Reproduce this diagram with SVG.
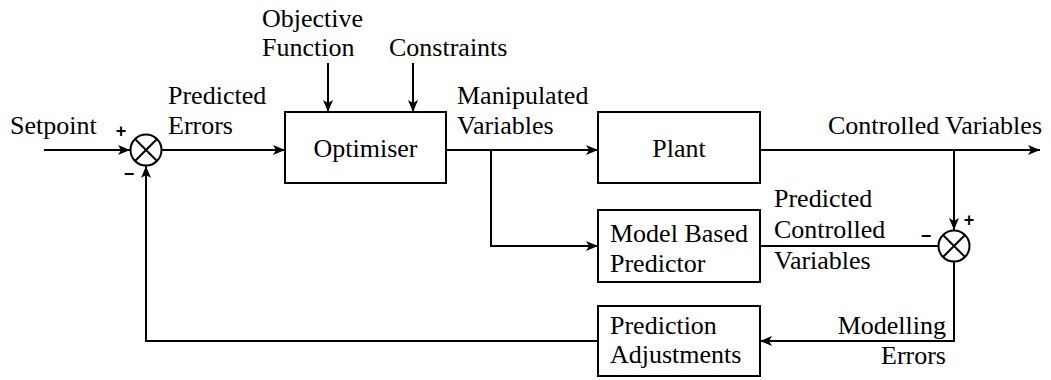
<svg xmlns="http://www.w3.org/2000/svg" width="1051" height="380" viewBox="0 0 1051 380">
  <defs>
    <marker id="ah" viewBox="0 0 12 10" refX="12" refY="5" markerWidth="12" markerHeight="10" markerUnits="userSpaceOnUse" orient="auto">
      <path d="M0,0 L12,5 L0,10 L3,5 z" fill="#000"/>
    </marker>
  </defs>

  <!-- connectors -->
  <g id="connectors" fill="none" stroke="#000" stroke-width="2">
    <path marker-end="url(#ah)" d="M44,150 H130"/>
    <path marker-end="url(#ah)" d="M162,150 H285"/>
    <path marker-end="url(#ah)" d="M328,63 V112"/>
    <path marker-end="url(#ah)" d="M413,63 V112"/>
    <path marker-end="url(#ah)" d="M446,150 H598"/>
    <path marker-end="url(#ah)" d="M491,150 V246 H598"/>
    <path marker-end="url(#ah)" d="M760,150 H1040"/>
    <path marker-end="url(#ah)" d="M954,150 V230"/>
    <path d="M760,246 H938"/>
    <path marker-end="url(#ah)" d="M954,262 V341 H760"/>
    <path marker-end="url(#ah)" d="M598,341 H146 V166"/>
  </g>

  <!-- summing junctions -->
  <g id="sum1">
    <circle cx="146" cy="150" r="15.5" fill="#fff" stroke="#000" stroke-width="2"/>
    <path d="M135,139 L157,161 M157,139 L135,161" stroke="#000" stroke-width="2"/>
    <text x="121" y="137" text-anchor="middle" style="font-family:'Liberation Sans',sans-serif;font-size:18px;font-weight:bold">+</text>
    <text x="129" y="180" text-anchor="middle" style="font-family:'Liberation Sans',sans-serif;font-size:18px;font-weight:bold">−</text>
  </g>
  <g id="sum2">
    <circle cx="954" cy="246" r="15.5" fill="#fff" stroke="#000" stroke-width="2"/>
    <path d="M943,235 L965,257 M965,235 L943,257" stroke="#000" stroke-width="2"/>
    <text x="969" y="226" text-anchor="middle" style="font-family:'Liberation Sans',sans-serif;font-size:18px;font-weight:bold">+</text>
    <text x="926" y="242" text-anchor="middle" style="font-family:'Liberation Sans',sans-serif;font-size:18px;font-weight:bold">−</text>
  </g>

  <!-- blocks -->
  <g id="optimiser">
    <rect x="285" y="112" width="161" height="71" fill="#fff" stroke="#000" stroke-width="2"/>
    <text x="365.5" y="157" text-anchor="middle" style="font-family:'Liberation Serif',serif;font-size:26px">Optimiser</text>
  </g>
  <g id="plant">
    <rect x="598" y="112" width="162" height="71" fill="#fff" stroke="#000" stroke-width="2"/>
    <text x="679" y="157" text-anchor="middle" style="font-family:'Liberation Serif',serif;font-size:26px">Plant</text>
  </g>
  <g id="predictor">
    <rect x="598" y="210" width="162" height="72" fill="#fff" stroke="#000" stroke-width="2"/>
    <text x="610" y="242" style="font-family:'Liberation Serif',serif;font-size:26px">Model Based</text>
    <text x="610" y="272" style="font-family:'Liberation Serif',serif;font-size:26px">Predictor</text>
  </g>
  <g id="adjustments">
    <rect x="598" y="306" width="162" height="70" fill="#fff" stroke="#000" stroke-width="2"/>
    <text x="610" y="334" style="font-family:'Liberation Serif',serif;font-size:26px">Prediction</text>
    <text x="610" y="363" style="font-family:'Liberation Serif',serif;font-size:26px">Adjustments</text>
  </g>

  <!-- signal labels -->
  <g id="labels">
    <text x="10" y="134" style="font-family:'Liberation Serif',serif;font-size:26px">Setpoint</text>
    <text x="168" y="104" style="font-family:'Liberation Serif',serif;font-size:26px">Predicted</text>
    <text x="168" y="134" style="font-family:'Liberation Serif',serif;font-size:26px">Errors</text>
    <text x="262" y="27" style="font-family:'Liberation Serif',serif;font-size:26px">Objective</text>
    <text x="262" y="56" style="font-family:'Liberation Serif',serif;font-size:26px">Function</text>
    <text x="389" y="56" style="font-family:'Liberation Serif',serif;font-size:26px">Constraints</text>
    <text x="457" y="104" style="font-family:'Liberation Serif',serif;font-size:26px">Manipulated</text>
    <text x="457" y="134" style="font-family:'Liberation Serif',serif;font-size:26px">Variables</text>
    <text x="1042" y="134" text-anchor="end" style="font-family:'Liberation Serif',serif;font-size:26px">Controlled Variables</text>
    <text x="774" y="207" style="font-family:'Liberation Serif',serif;font-size:26px">Predicted</text>
    <text x="774" y="238" style="font-family:'Liberation Serif',serif;font-size:26px">Controlled</text>
    <text x="774" y="269" style="font-family:'Liberation Serif',serif;font-size:26px">Variables</text>
    <text x="946" y="334" text-anchor="end" style="font-family:'Liberation Serif',serif;font-size:26px">Modelling</text>
    <text x="946" y="364" text-anchor="end" style="font-family:'Liberation Serif',serif;font-size:26px">Errors</text>
  </g>
</svg>
